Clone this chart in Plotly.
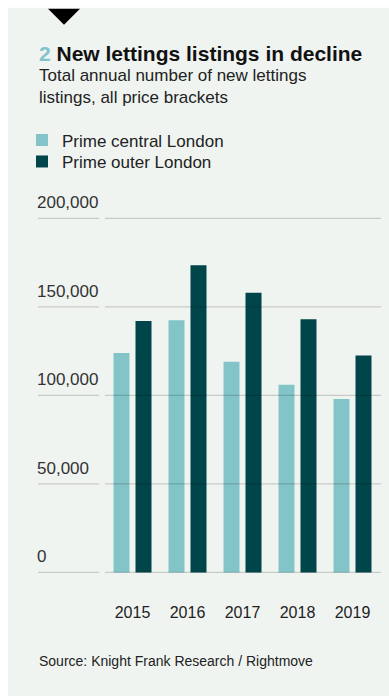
import plotly.graph_objects as go

# ---- data ----
years = ["2015", "2016", "2017", "2018", "2019"]
prime_central = [124000, 142500, 119000, 106000, 98000]
prime_outer = [142000, 173500, 158000, 143000, 122500]
y_ticks = [0, 50000, 100000, 150000, 200000]
y_tick_labels = ["0", "50,000", "100,000", "150,000", "200,000"]
series_names = ["Prime central London", "Prime outer London"]

title_num = "2"
title_text = "New lettings listings in decline"
subtitle = "Total annual number of new lettings<br>listings, all price brackets"
source = "Source: Knight Frank Research / Rightmove"

# ---- layout geometry ----
W, H = 389, 696
Y_MIN, Y_MAX = -6000, 220000
ZERO_PX = 572                   # pixel row of value 0
PX_PER_UNIT = 88.4 / 50000      # vertical scale
L, R = 34, 9
T = ZERO_PX - Y_MAX * PX_PER_UNIT
B = H - (ZERO_PX - Y_MIN * PX_PER_UNIT)
pw = W - L - R
ph = H - T - B


def px(x):
    return (x - L) / pw


def py(y):
    return (H - B - y) / ph


FONT = "Liberation Sans, Arial, Helvetica, sans-serif"
LIGHT = "#82c4c8"
DARK = "#00454a"
PANEL = "#f0f4f1"

fig = go.Figure()
fig.add_trace(go.Bar(x=years, y=prime_central, name=series_names[0], legend="legend",
                     marker=dict(color=LIGHT, line=dict(width=0))))
fig.add_trace(go.Bar(x=years, y=prime_outer, name=series_names[1], legend="legend2",
                     marker=dict(color=DARK, line=dict(width=0))))

shapes = [
    dict(type="rect", xref="paper", yref="paper", x0=px(8), x1=px(400),
         y0=py(700), y1=py(8), fillcolor=PANEL, line=dict(width=0), layer="below"),
    dict(type="path", xref="paper", yref="paper",
         path=f"M{px(48)},{py(9)} L{px(80)},{py(9)} L{px(64)},{py(25)} Z",
         fillcolor="#000000", line=dict(width=0), layer="above"),
]
for v in y_ticks:
    for a, b in ((38, 99), (105, 381)):
        shapes.append(dict(type="line", xref="paper", yref="y", x0=px(a), x1=px(b),
                           y0=v, y1=v, line=dict(color="rgba(0,0,0,0.17)", width=1.2),
                           layer="above"))

annotations = [
    dict(xref="paper", yref="paper", x=px(37), y=py(54), xanchor="left", yanchor="middle",
         showarrow=False, align="left",
         text=f"<b><span style='color:{LIGHT}'>{title_num}</span> {title_text}</b>",
         font=dict(family=FONT, size=21, color="#111111")),
    dict(xref="paper", yref="paper", x=px(37), y=py(86.5), xanchor="left", yanchor="middle",
         showarrow=False, align="left", text=subtitle,
         font=dict(family=FONT, size=17, color="#222222")),
    dict(xref="paper", yref="paper", x=px(37), y=py(661), xanchor="left", yanchor="middle",
         showarrow=False, align="left", text=source,
         font=dict(family=FONT, size=14, color="#222222")),
]

legend_common = dict(xanchor="left", yanchor="top", bgcolor="rgba(0,0,0,0)",
                     font=dict(family=FONT, size=17, color="#222222"), itemclick=False)

fig.update_layout(
    width=W, height=H,
    margin=dict(l=L, r=R, t=T, b=B, pad=0),
    paper_bgcolor="#ffffff",
    plot_bgcolor="rgba(0,0,0,0)",
    barmode="group", bargap=0.2, bargroupgap=0.273,
    font=dict(family=FONT, size=17, color="#333333"),
    showlegend=True,
    legend=dict(x=px(22), y=py(122.5), **legend_common),
    legend2=dict(x=px(22), y=py(144), **legend_common),
    xaxis=dict(type="category", range=[(L - 132.5) / 55, (W - R - 132.5) / 55],
               showgrid=False, zeroline=False, showline=False, ticks="",
               tickfont=dict(family=FONT, size=16, color="#222222"),
               ticklabelstandoff=18, fixedrange=True),
    yaxis=dict(range=[Y_MIN, Y_MAX], tickvals=y_ticks, ticktext=y_tick_labels,
               ticklabelposition="inside top", ticklabelshift=-4, showgrid=False,
               zeroline=False, showline=False, ticks="",
               tickfont=dict(family=FONT, size=17, color="#333333"), fixedrange=True),
    shapes=shapes,
    annotations=annotations,
)

fig.write_html("out.html")
